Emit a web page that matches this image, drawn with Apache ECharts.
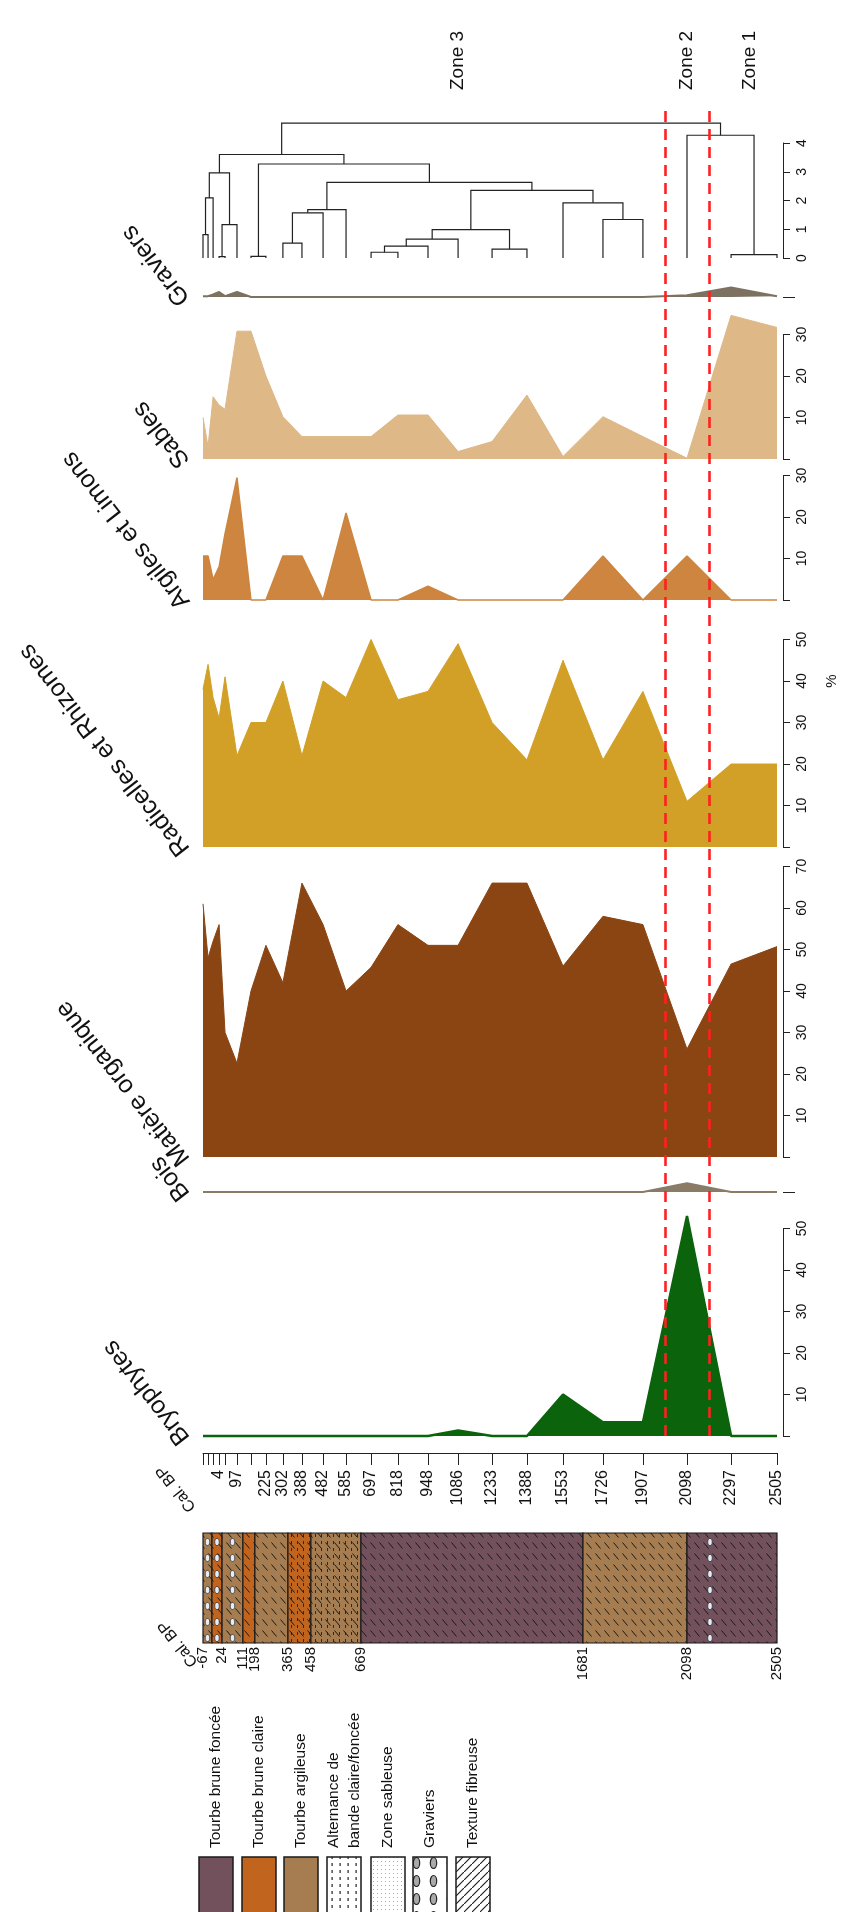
<!DOCTYPE html>
<html>
<head>
<meta charset="utf-8">
<script src="https://cdn.jsdelivr.net/npm/echarts@6/dist/echarts.min.js"></script>
<style>
  html, body { margin: 0; padding: 0; background: #fff; }
  #chart { width: 850px; height: 1912px; }
</style>
</head>
<body>
<div id="chart"></div>
<script>
const FONT = '"Liberation Sans", Arial, Helvetica, sans-serif'

// depth of each sample along the core (cm)
const depth = [0, 2.2, 4.4, 7.0, 9.6, 14.8, 20.9, 27.4, 34.8, 43.1, 52.3, 62.3, 73.2, 84.9,
  98.0, 111.1, 125.9, 141.1, 156.8, 174.2, 191.6, 210.8, 230.0, 250.0]
// cal. BP age printed under each sample tick ('' = tick without label)
const ageLabels = ['', '', '', '4', '', '97', '', '225', '302', '388', '482', '585', '697', '818',
  '948', '1086', '1233', '1388', '1553', '1726', '1907', '2098', '2297', '2505']

// percentages per sample
const graviers   = [0.2, 0.2, 0.6, 1.2, 0.2, 1.2, 0, 0, 0, 0, 0, 0, 0, 0, 0, 0, 0, 0, 0, 0, 0, 0.4, 2.3, 0.2]
const sables     = [10, 3, 15, 13, 12, 30.8, 30.8, 20, 10.2, 5.4, 5.4, 5.4, 5.4, 10.6, 10.6, 1.8, 4.2, 15.4, 0.6, 10.2, 5.4, 0.2, 34.6, 31.7]
const argiles    = [10.6, 10.6, 4.9, 8, 16, 29.5, 0, 0, 10.6, 10.6, 0, 21, 0, 0, 3.3, 0, 0, 0, 0, 10.6, 0, 10.6, 0, 0]
const radicelles = [38, 44, 36, 31, 41, 22, 30, 30, 40, 22, 40, 36, 50, 35.5, 37.5, 49, 30, 21, 45, 21, 37.5, 11, 20, 20]
const matiere    = [61, 48, 52, 56, 30, 22.6, 40, 51, 42, 66, 56, 40, 45.7, 56, 51, 51, 66, 66, 46, 58, 56, 26, 46.5, 50.7]
const bois       = [0, 0, 0, 0, 0, 0, 0, 0, 0, 0, 0, 0, 0, 0, 0, 0, 0, 0, 0, 0, 0, 2.1, 0, 0]
const bryophytes = [0, 0, 0, 0, 0, 0, 0, 0, 0, 0, 0, 0, 0, 0, 0, 1.3, 0, 0, 10, 3.3, 3.3, 53, 0, 0]

// CONISS clustering, hclust style: negative = sample (1-based), positive = earlier merge row
const clusterMerge = [
  [-1, -2, 0.81], [1, -3, 2.09], [-4, -5, 0.05], [3, -6, 1.16], [2, 4, 2.96],
  [-7, -8, 0.06], [-9, -10, 0.52], [7, -11, 1.57], [8, -12, 1.68],
  [-13, -14, 0.2], [10, -15, 0.41], [11, -16, 0.66], [-17, -18, 0.31], [12, 13, 0.99],
  [-20, -21, 1.34], [-19, 15, 1.92], [14, 16, 2.35], [9, 17, 2.63], [6, 18, 3.27],
  [5, 19, 3.6], [-23, -24, 0.12], [-22, 21, 4.27], [20, 22, 4.69]
]

// stratigraphy of the core
const stratBounds = [0, 3.9, 8.3, 17.4, 22.6, 37.0, 47.0, 68.8, 165.5, 210.8, 250]
const stratBoundLabels = ['-67', '', '24', '111', '198', '365', '458', '669', '1681', '2098', '2505']
const stratType = ['argileuse', 'claire', 'argileuse', 'claire', 'argileuse', 'claire', 'argileuse', 'foncee', 'argileuse', 'foncee']
const stratGravel = [1, 1, 1, 0, 0, 0, 0, 0, 0, 1]
const stratAlternance = [0, 0, 0, 0, 0, 1, 1, 0, 0, 0]

const zoneNames = ['Zone 3', 'Zone 2', 'Zone 1']
const zoneLabelDepth = [111, 210.8, 238]

const layerColors = { foncee: '#72505c', claire: '#c0641e', argileuse: '#a57d50' }

function makePattern(w, h, draw) {
  let c = document.createElement('canvas')
  c.width = w
  c.height = h
  let ctx = c.getContext('2d')
  draw(ctx)
  return { image: c, repeat: 'repeat' }
}

const fibrePat = makePattern(9, 11, ctx => {
  ctx.strokeStyle = '#1a1a1a'
  ctx.lineWidth = 1
  ctx.beginPath(); ctx.moveTo(1.5, 2.5); ctx.lineTo(6.5, 8.5); ctx.stroke()
})
const altPat = makePattern(6, 7, ctx => {
  ctx.fillStyle = '#2a2a2a'
  ctx.fillRect(3, 1, 1, 3)
})
const legAltPat = makePattern(8, 7, ctx => {
  ctx.fillStyle = '#fff'; ctx.fillRect(0, 0, 8, 7)
  ctx.fillStyle = '#222'; ctx.fillRect(3.5, 1, 1.2, 3)
})
const legSandPat = makePattern(4, 4, ctx => {
  ctx.fillStyle = '#fff'; ctx.fillRect(0, 0, 4, 4)
  ctx.fillStyle = '#aaa'; ctx.fillRect(1, 1, 1, 1)
})
const legGravelPat = makePattern(17, 18, ctx => {
  ctx.fillStyle = '#fff'; ctx.fillRect(0, 0, 17, 18)
  ctx.fillStyle = '#a9a9a9'; ctx.strokeStyle = '#222'; ctx.lineWidth = 1.2
  ctx.beginPath(); ctx.ellipse(8.5, 9, 3.2, 5.5, 0, 0, Math.PI * 2); ctx.fill(); ctx.stroke()
})
const legFibrePat = makePattern(8, 8, ctx => {
  ctx.fillStyle = '#fff'; ctx.fillRect(0, 0, 8, 8)
  ctx.strokeStyle = '#222'; ctx.lineWidth = 1.2
  ctx.beginPath(); ctx.moveTo(0, 8); ctx.lineTo(8, 0); ctx.stroke()
})

// merge rows -> [xLeft, hLeft, xRight, hRight, h]
function dendroRows() {
  let pos = [], ht = [], rows = []
  let ref = k => k < 0 ? [depth[-k - 1], 0] : [pos[k - 1], ht[k - 1]]
  clusterMerge.forEach(([a, b, h]) => {
    let [xa, ha] = ref(a), [xb, hb] = ref(b)
    rows.push([xa, ha, xb, hb, h])
    pos.push((xa + xb) / 2)
    ht.push(h)
  })
  return rows
}

const zoneBounds = [(depth[20] + depth[21]) / 2, (depth[21] + depth[22]) / 2]

// grid layout: baseline (px) and px per unit; every % panel uses the same scale
const PC = 4.15
const LEFT = 203, WIDTH = 574
const panels = [
  { base: 258, max: 4, unit: 28.75 },  // 0 dendrogram
  { base: 297, max: 3, unit: PC },     // 1 graviers
  { base: 459, max: 30, unit: PC },    // 2 sables
  { base: 600, max: 30, unit: PC },    // 3 argiles
  { base: 847, max: 50, unit: PC },    // 4 radicelles
  { base: 1157, max: 70, unit: PC },   // 5 matiere
  { base: 1192, max: 3, unit: PC },    // 6 bois
  { base: 1436, max: 50, unit: PC }    // 7 bryophytes
]

let grids = panels.map(p => {
  let h = p.max * p.unit
  return { left: LEFT, width: WIDTH, top: p.base - h, height: h }
})
grids.push({ left: LEFT, width: WIDTH, top: 1533, height: 110 })   // 8 column
grids.push({ left: LEFT, width: WIDTH, top: 105, height: 1331 })   // 9 overlay

function hiddenX(i) {
  return { type: 'value', gridIndex: i, min: 0, max: 250, show: false }
}
// zero is ticked but not labelled on the % axes
function valueAxis(i, max, ticks, labels, tickLen) {
  return {
    type: 'value', gridIndex: i, position: 'right', offset: 6, min: 0, max: max,
    axisLine: { show: ticks.length > 1, onZero: false, lineStyle: { color: '#222', width: 1 } },
    axisTick: { show: true, length: tickLen || 7, customValues: ticks, lineStyle: { color: '#222' } },
    axisLabel: { show: labels.length > 0, rotate: 90, margin: 12, customValues: labels,
      fontSize: 14, color: '#111', fontFamily: FONT },
    splitLine: { show: false }
  }
}

let xAxes = []
for (let i = 0; i < 10; i++) xAxes.push(hiddenX(i))
// sample ages under the bryophytes panel
xAxes[7] = {
  type: 'value', gridIndex: 7, min: 0, max: 250, position: 'bottom', offset: 17,
  axisLine: { show: true, onZero: false, lineStyle: { color: '#222', width: 1 } },
  axisTick: { show: true, length: 12, customValues: depth, lineStyle: { color: '#222' } },
  axisLabel: {
    show: true, rotate: 90, margin: 17, fontSize: 16, color: '#111', fontFamily: FONT,
    customValues: depth.filter((d, i) => ageLabels[i]),
    formatter: v => ageLabels[depth.indexOf(v)] || ''
  },
  splitLine: { show: false }
}
// layer boundaries under the column
xAxes[8] = {
  type: 'value', gridIndex: 8, min: 0, max: 250, position: 'bottom',
  axisLine: { show: false }, axisTick: { show: false },
  axisLabel: {
    show: true, rotate: 90, margin: 4, fontSize: 15, color: '#111', fontFamily: FONT,
    customValues: stratBounds.filter((d, i) => stratBoundLabels[i]),
    formatter: v => stratBoundLabels[stratBounds.indexOf(v)] || ''
  },
  splitLine: { show: false }
}

let yAxes = [
  valueAxis(0, 4, [0, 1, 2, 3, 4], [0, 1, 2, 3, 4]),
  valueAxis(1, 3, [0], [], 12),
  valueAxis(2, 30, [0, 10, 20, 30], [10, 20, 30]),
  valueAxis(3, 30, [0, 10, 20, 30], [10, 20, 30]),
  valueAxis(4, 50, [0, 10, 20, 30, 40, 50], [10, 20, 30, 40, 50]),
  valueAxis(5, 70, [0, 10, 20, 30, 40, 50, 60, 70], [10, 20, 30, 40, 50, 60, 70]),
  valueAxis(6, 3, [0], [], 12),
  valueAxis(7, 50, [0, 10, 20, 30, 40, 50], [10, 20, 30, 40, 50]),
  { type: 'value', gridIndex: 8, min: 0, max: 1, show: false },
  { type: 'value', gridIndex: 9, min: 0, max: 1, show: false }
]

function areaSeries(i, values, color, lw) {
  return {
    type: 'line', xAxisIndex: i, yAxisIndex: i, clip: false, silent: true, z: 3,
    symbol: 'none', data: depth.map((d, k) => [d, values[k]]),
    lineStyle: { color: color, width: lw || 1 },
    areaStyle: { color: color, opacity: 1, origin: 'start' }
  }
}

let series = [
  {
    type: 'custom', xAxisIndex: 0, yAxisIndex: 0, clip: false, silent: true,
    data: dendroRows(), encode: { x: [0, 2], y: [1, 3, 4] },
    renderItem: (params, api) => {
      let a = api.coord([api.value(0), api.value(1)])
      let a2 = api.coord([api.value(0), api.value(4)])
      let b2 = api.coord([api.value(2), api.value(4)])
      let b = api.coord([api.value(2), api.value(3)])
      return { type: 'polyline', shape: { points: [a, a2, b2, b] },
        style: { stroke: '#222', lineWidth: 1.2, fill: null } }
    }
  },
  areaSeries(1, graviers, '#7d7262', 2),
  areaSeries(2, sables, '#deb887'),
  areaSeries(3, argiles, '#cd853f', 1.5),
  areaSeries(4, radicelles, '#d2a027'),
  areaSeries(5, matiere, '#8b4513'),
  areaSeries(6, bois, '#8a7b66', 2),
  areaSeries(7, bryophytes, '#0b640b', 2.5),
  {
    type: 'custom', xAxisIndex: 8, yAxisIndex: 8, silent: true,
    data: stratType.map((t, i) => [stratBounds[i], stratBounds[i + 1], i]),
    encode: { x: [0, 1] },
    renderItem: (params, api) => {
      let i = api.value(2)
      let cs = params.coordSys
      let x0 = api.coord([api.value(0), 0])[0]
      let x1 = api.coord([api.value(1), 0])[0]
      let children = [
        { type: 'rect', shape: { x: x0, y: cs.y, width: x1 - x0, height: cs.height },
          style: { fill: layerColors[stratType[i]] } }
      ]
      if (stratAlternance[i]) {
        children.push({ type: 'rect', shape: { x: x0, y: cs.y, width: x1 - x0, height: cs.height },
          style: { fill: altPat } })
      }
      children.push({ type: 'rect', shape: { x: x0, y: cs.y, width: x1 - x0, height: cs.height },
        style: { fill: fibrePat } })
      if (stratGravel[i]) {
        let cx = Math.min((x0 + x1) / 2, x0 + 23)
        for (let y = cs.y + 9; y < cs.y + cs.height - 4; y += 16) {
          children.push({ type: 'ellipse', shape: { cx: cx, cy: y, rx: 2.3, ry: 3.6 },
            style: { fill: '#e4ecf7', stroke: '#333', lineWidth: 0.8 } })
        }
      }
      children.push({ type: 'rect', shape: { x: x0, y: cs.y, width: x1 - x0, height: cs.height },
        style: { fill: null, stroke: '#1a1a1a', lineWidth: 1.2 } })
      return { type: 'group', children: children }
    }
  },
  {
    type: 'line', xAxisIndex: 9, yAxisIndex: 9, z: 20, silent: true, symbol: 'none',
    data: [[0, 0]], lineStyle: { opacity: 0 },
    markLine: {
      silent: true, symbol: 'none', label: { show: false }, animation: false,
      lineStyle: { color: '#ff2020', type: [11, 7], width: 2.6 },
      data: zoneBounds.map(v => ({ xAxis: v }))
    }
  }
]

let chart = echarts.init(document.getElementById('chart'))
chart.setOption({
  animation: false,
  backgroundColor: '#fff',
  grid: grids,
  xAxis: xAxes,
  yAxis: yAxes,
  series: series
})

// texts placed from the axes; titles read up-left
const TITLE_ROT = 128 * Math.PI / 180
let graphics = []
const titles = [[1, 'Graviers'], [2, 'Sables'], [3, 'Argiles et Limons'], [4, 'Radicelles et Rhizomes'],
  [5, 'Matière organique'], [6, 'Bois'], [7, 'Bryophytes']]
titles.forEach(([g, t]) => {
  let p = chart.convertToPixel({ gridIndex: g }, [0, 0])
  graphics.push({ type: 'text', x: p[0] - 8, y: p[1] - 2, rotation: TITLE_ROT,
    style: { text: t, font: '25px ' + FONT, fill: '#111', align: 'left', verticalAlign: 'bottom' } })
})
zoneNames.forEach((z, i) => {
  let p = chart.convertToPixel({ gridIndex: 9 }, [zoneLabelDepth[i], 0])
  graphics.push({ type: 'text', x: p[0], y: 90, rotation: Math.PI / 2,
    style: { text: z, font: '19px ' + FONT, fill: '#111', align: 'left', verticalAlign: 'middle' } })
})
let pc = chart.convertToPixel({ gridIndex: 4 }, [250, 40])
graphics.push({ type: 'text', x: 832, y: pc[1], rotation: Math.PI / 2,
  style: { text: '%', font: '15px ' + FONT, fill: '#111', align: 'center', verticalAlign: 'middle' } })
graphics.push({ type: 'text', x: 199, y: 1505, rotation: TITLE_ROT,
  style: { text: 'Cal. BP', font: '16px ' + FONT, fill: '#111', align: 'left', verticalAlign: 'bottom' } })
graphics.push({ type: 'text', x: 201, y: 1660, rotation: TITLE_ROT,
  style: { text: 'Cal. BP', font: '16px ' + FONT, fill: '#111', align: 'left', verticalAlign: 'bottom' } })

// legend of the column
const legendItems = [
  ['Tourbe brune foncée', layerColors.foncee],
  ['Tourbe brune claire', layerColors.claire],
  ['Tourbe argileuse', layerColors.argileuse],
  ['Alternance de\nbande claire/foncée', legAltPat],
  ['Zone sableuse', legSandPat],
  ['Graviers', legGravelPat],
  ['Texture fibreuse', legFibrePat]
]
const legendX = [199, 242, 284, 327, 371, 413, 456]
legendItems.forEach(([t, fill], i) => {
  graphics.push({ type: 'rect', shape: { x: legendX[i], y: 1857, width: 34, height: 80 },
    style: { fill: fill, stroke: '#1a1a1a', lineWidth: 1.5 } })
  graphics.push({ type: 'text', x: legendX[i] + 17, y: 1848, rotation: Math.PI / 2,
    style: { text: t, font: '15.5px ' + FONT, fill: '#111', align: 'left', verticalAlign: 'middle', lineHeight: 21 } })
})

chart.setOption({ graphic: graphics })
</script>
</body>
</html>
